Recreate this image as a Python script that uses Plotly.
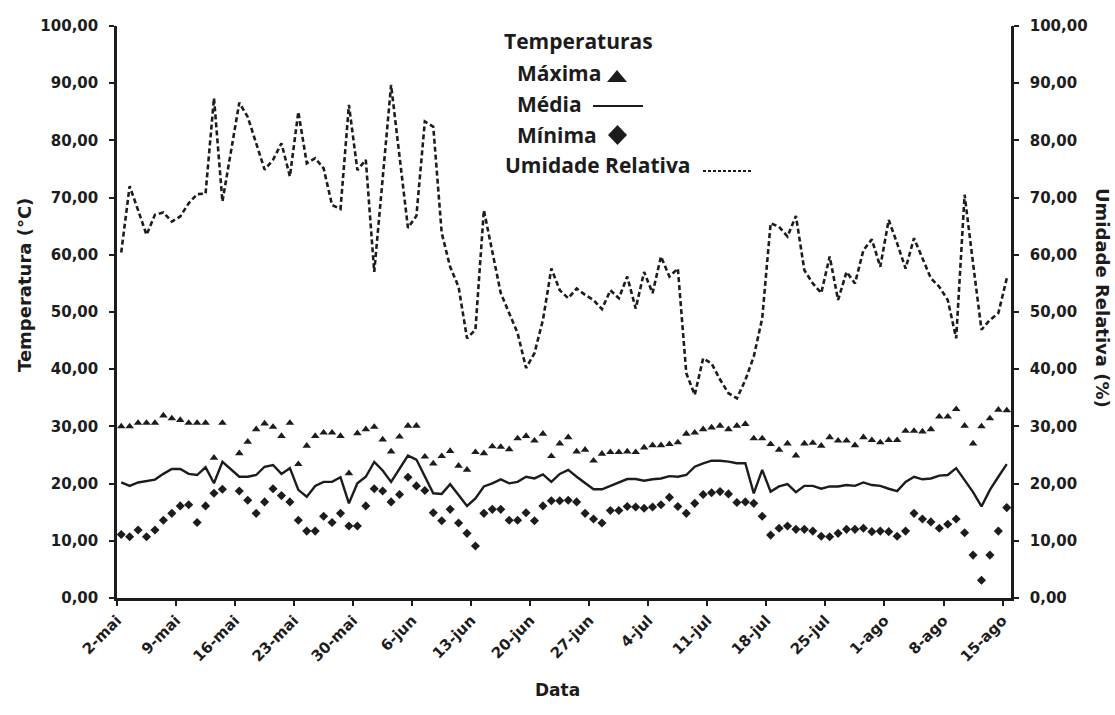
import plotly.graph_objects as go

# ---------------- data (daily, 2-mai ... 15-ago) ----------------
tick_labels = ["2-mai", "9-mai", "16-mai", "23-mai", "30-mai", "6-jun", "13-jun", "20-jun",
               "27-jun", "4-jul", "11-jul", "18-jul", "25-jul", "1-ago", "8-ago", "15-ago"]

t_max = [30.0, 30.0, 30.6, 30.6, 30.6, 31.9, 31.4, 31.1, 30.6, 30.6,
         30.6, 24.5, 30.6, None, 25.3, 27.3, 29.5, 30.5, 29.9, 28.3,
         30.6, 23.4, 26.6, 28.3, 28.9, 28.9, 28.3, 21.8, 28.8, 29.5,
         29.9, 27.7, 25.6, 28.2, 30.1, 30.1, 24.7, 23.5, 24.8, 25.7,
         23.1, 22.4, 25.5, 25.3, 26.5, 26.4, 26.0, 27.9, 28.3, 27.5,
         28.7, 24.8, 27.0, 28.1, 25.6, 25.9, 24.0, 25.2, 25.5, 25.5,
         25.6, 25.5, 26.3, 26.7, 26.7, 26.9, 27.2, 28.7, 28.9, 29.5,
         29.8, 30.1, 29.5, 30.1, 30.4, 27.9, 27.9, 26.9, 25.9, 27.0,
         24.9, 27.0, 27.1, 26.6, 28.1, 27.5, 27.5, 26.7, 28.1, 27.6,
         27.2, 27.6, 27.6, 29.2, 29.2, 29.1, 29.5, 31.7, 31.7, 33.0,
         30.1, 27.0, 30.0, 31.4, 32.9, 32.8]

t_med = [20.2, 19.6, 20.2, 20.45, 20.7, 21.7, 22.55, 22.55, 21.7, 21.5,
         22.85, 20.05, 23.8, None, 21.2, 21.2, 21.5, 22.95, 23.25, 21.7,
         22.7, 18.9, 17.7, 19.6, 20.3, 20.3, 21.1, 16.55, 20.05, 21.2,
         23.8, 22.3, 20.3, 22.7, 24.9, 24.2, 21.2, 18.3, 18.2, 19.9,
         18.0, 16.1, 17.4, 19.5, 20.05, 20.75, 20.05, 20.3, 21.2, 20.9,
         21.6, 20.3, 21.7, 22.4, 21.2, 20.05, 19.0, 19.0, 19.6, 20.3,
         20.8, 20.8, 20.5, 20.75, 20.9, 21.3, 21.2, 21.5, 22.95, 23.55,
         24.0, 24.0, 23.85, 23.55, 23.55, 18.3, 22.4, 18.6, 19.5, 19.9,
         18.5, 19.6, 19.6, 19.1, 19.5, 19.5, 19.75, 19.6, 20.2, 19.75,
         19.6, 19.1, 18.7, 20.3, 21.2, 20.75, 20.9, 21.4, 21.5, 22.7,
         20.6, 18.5, 16.0, 18.9, 21.2, 23.4]

t_min = [11.1, 10.7, 11.9, 10.7, 11.9, 13.6, 14.8, 16.1, 16.3, 13.2,
         16.1, 18.3, 19.0, None, 18.7, 17.1, 14.8, 16.8, 19.1, 17.9,
         16.8, 13.6, 11.7, 11.7, 14.3, 13.2, 14.8, 12.6, 12.6, 16.1,
         19.1, 18.7, 16.8, 18.1, 21.1, 19.6, 18.8, 14.9, 13.5, 15.5,
         13.1, 11.3, 9.1, 14.8, 15.5, 15.5, 13.6, 13.6, 14.9, 13.5,
         16.1, 17.0, 17.0, 17.1, 16.8, 14.8, 13.8, 13.1, 15.3, 15.3,
         16.0, 15.9, 15.7, 15.9, 16.3, 17.6, 16.0, 14.8, 16.55, 18.1,
         18.4, 18.6, 18.2, 16.7, 16.8, 16.55, 14.3, 11.0, 12.2, 12.6,
         12.0, 12.0, 11.7, 10.8, 10.7, 11.3, 12.0, 12.0, 12.2, 11.6,
         11.7, 11.6, 10.8, 11.7, 14.8, 13.8, 13.3, 12.2, 12.9, 13.8,
         11.4, 7.5, 3.1, 7.5, 11.7, 15.8]

umidade = [60.4, 72.0, 67.8, 63.5, 67.0, 67.4, 65.8, 66.7, 69.0, 70.6,
           70.7, 87.4, 69.3, None, 86.6, 84.1, 79.5, 74.9, 76.6, 79.5,
           73.7, 85.0, 76.0, 76.9, 75.1, 68.7, 68.0, 86.2, 74.8, 76.6,
           57.0, 73.1, 89.7, 77.2, 64.7, 66.8, 83.3, 82.4, 63.8, 57.9,
           54.4, 45.4, 46.9, 67.8, 60.8, 53.3, 49.8, 46.3, 40.2, 42.8,
           48.6, 57.6, 53.8, 52.4, 54.1, 53.0, 52.1, 50.5, 53.8, 52.4,
           56.2, 50.6, 57.0, 53.3, 59.7, 56.2, 57.6, 39.3, 35.5, 41.9,
           41.0, 38.2, 35.8, 34.9, 38.1, 42.2, 48.9, 65.5, 64.9, 63.2,
           66.8, 57.3, 55.0, 53.3, 59.7, 52.1, 57.0, 55.0, 60.8, 62.7,
           57.9, 66.1, 62.0, 57.6, 62.9, 59.4, 55.9, 54.4, 52.1, 45.4,
           70.5, 58.5, 46.9, 48.6, 49.8, 55.9]

days = list(range(len(t_max)))
tick_pos = [7 * i - 0.5 for i in range(len(tick_labels))]

# ---------------- figure ----------------
W, H = 1115, 715
L, R, T, B = 117, 1011, 26, 598


def px(x):
    return (x - L) / (R - L)


def py(y):
    return (B - y) / (B - T)


INK = "#1c1c1c"
AXFONT = dict(family="DejaVu Sans", size=15, color=INK, weight="bold")
LEGFONT = dict(family="Open Sans", size=21, color=INK, weight="bold")

fig = go.Figure()
fig.add_trace(go.Scatter(x=days, y=umidade, mode="lines", yaxis="y2", connectgaps=True,
                         line=dict(color=INK, width=2.6, dash="5px,3px"), name="Umidade Relativa"))
fig.add_trace(go.Scatter(x=days, y=t_med, mode="lines", connectgaps=True,
                         line=dict(color=INK, width=2.4), name="Média"))
fig.add_trace(go.Scatter(x=days, y=t_max, mode="markers",
                         marker=dict(symbol="triangle-up", size=7.5, color=INK), name="Máxima"))
fig.add_trace(go.Scatter(x=days, y=t_min, mode="markers",
                         marker=dict(symbol="diamond", size=7, color=INK), name="Mínima"))

axis_common = dict(showline=True, linecolor=INK, linewidth=2.5, ticks="outside",
                   ticklen=5, tickwidth=2, tickcolor=INK, showgrid=False, zeroline=False,
                   tickfont=AXFONT)

fig.update_layout(
    width=W, height=H,
    margin=dict(l=L, r=W - R, t=T, b=H - B),
    paper_bgcolor="white", plot_bgcolor="white",
    showlegend=False,
    separators=",.",
    xaxis=dict(range=[-0.5, len(days) - 0.5], tickmode="array", tickvals=tick_pos,
               ticktext=tick_labels, tickangle=-45, **axis_common),
    yaxis=dict(range=[0, 100], dtick=10, tickformat=".2f", ticklabelstandoff=8, **axis_common),
    yaxis2=dict(range=[0, 100], dtick=10, tickformat=".2f", overlaying="y", side="right",
                ticklabelstandoff=8, **axis_common),
)

ann = []
ann.append(dict(text="Temperatura (°C)", x=px(24), y=py(285), textangle=-90,
                font=dict(family="DejaVu Sans", size=18, color=INK, weight="bold")))
ann.append(dict(text="Umidade Relativa (%)", x=px(1103), y=py(298), textangle=90,
                font=dict(family="DejaVu Sans", size=18, color=INK, weight="bold")))
ann.append(dict(text="Data", x=px(557), y=py(690),
                font=dict(family="DejaVu Sans", size=17, color=INK, weight="bold")))
for txt, x, y in [("Temperaturas", 502, 41), ("Máxima", 515, 73), ("Média", 515, 104),
                  ("Mínima", 515, 135), ("Umidade Relativa", 503, 165)]:
    ann.append(dict(text=txt, x=px(x), y=py(y), xanchor="left", font=LEGFONT))
for a in ann:
    a.update(xref="paper", yref="paper", showarrow=False,
             xanchor=a.get("xanchor", "center"), yanchor="middle")
fig.update_layout(annotations=ann)


def path(points):
    return "M " + " L ".join(f"{px(x)},{py(y)}" for x, y in points) + " Z"


fig.add_shape(type="path", xref="paper", yref="paper", fillcolor=INK, line=dict(width=0),
              path=path([(607, 82), (627, 82), (617, 70)]))
fig.add_shape(type="path", xref="paper", yref="paper", fillcolor=INK, line=dict(width=0),
              path=path([(617.5, 125), (627, 135), (617.5, 145), (608, 135)]))
fig.add_shape(type="line", xref="paper", yref="paper", x0=px(593), x1=px(643), y0=py(106), y1=py(106),
              line=dict(color=INK, width=2))
fig.add_shape(type="line", xref="paper", yref="paper", x0=px(703), x1=px(753), y0=py(171), y1=py(171),
              line=dict(color=INK, width=2.2, dash="3px,2px"))

fig.write_html("out.html", config={"displayModeBar": False})
